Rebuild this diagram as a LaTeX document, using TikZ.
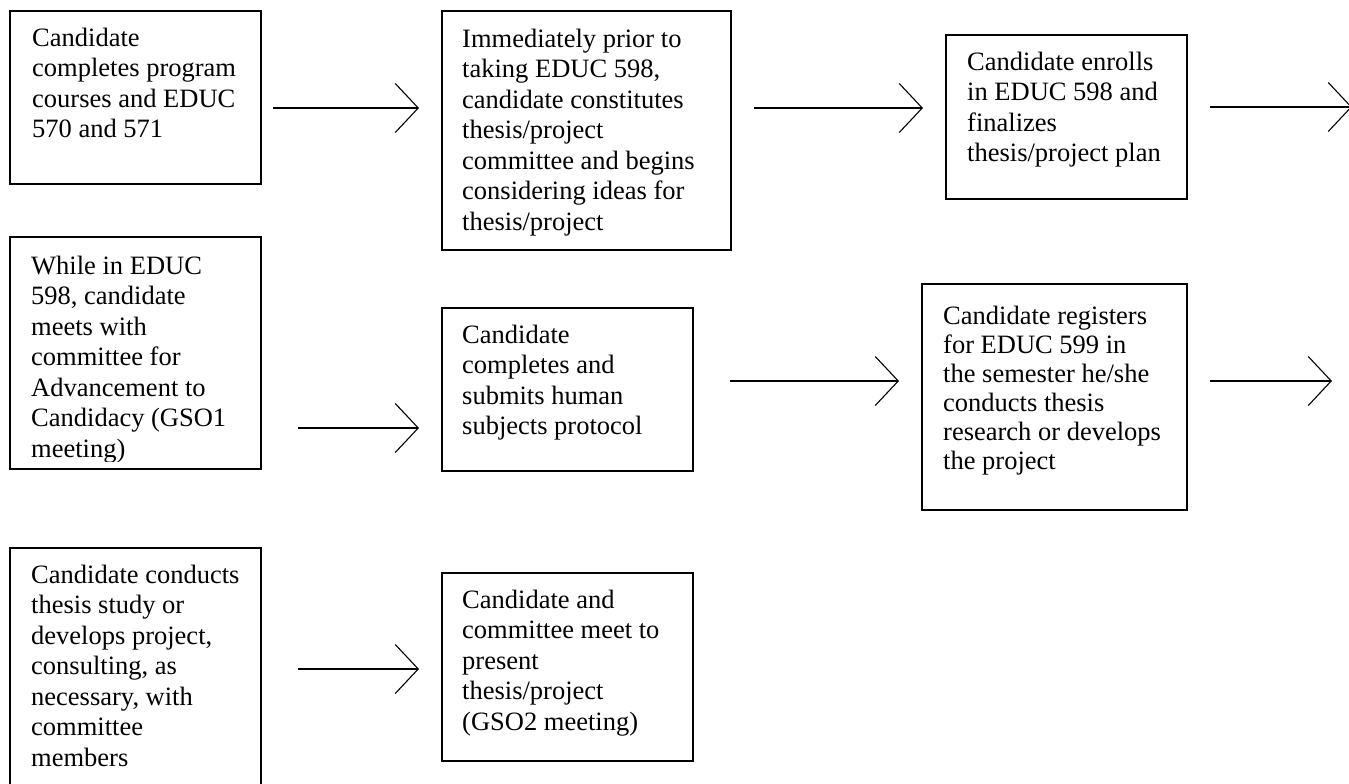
\documentclass[tikz,border=0pt]{standalone}
\usepackage{fontspec}
\setmainfont{Liberation Serif}
\usetikzlibrary{arrows.meta}
\begin{document}
\begin{tikzpicture}[x=1pt,y=-1pt,
  box/.style={draw, line width=1.1pt, inner sep=0pt, outer sep=0pt, anchor=north west},
  txt/.style={anchor=base west, align=left, inner sep=0pt, font=\fontsize{26.5}{30.5}\selectfont},
  arr/.style={line width=1.1pt, -{Straight Barb[length=23pt,width=49pt,line width=1.1pt]}}]
\useasboundingbox (0,0) rectangle (1349,784);
% boxes
\node[box, minimum width=251pt, minimum height=173pt] (A1) at (10,11) {};
\node[box, minimum width=289pt, minimum height=239pt] (A2) at (442,11) {};
\node[box, minimum width=241pt, minimum height=164pt] (A3) at (946,35) {};
\node[box, minimum width=251pt, minimum height=232pt] (B1) at (10,237) {};
\node[box, minimum width=251pt, minimum height=163pt] (B2) at (442,308) {};
\node[box, minimum width=265pt, minimum height=226pt] (B3) at (922,284) {};
\node[box, minimum width=251pt, minimum height=260pt] (C1) at (10,548) {};
\node[box, minimum width=251pt, minimum height=188pt] (C2) at (442,573) {};
% texts (anchored at the baseline of their last line)
\node[txt] (A1t) at (32,137.5) {Candidate\\completes program\\courses and EDUC\\570 and 571};
\node[txt] (A2t) at (462,230) {Immediately prior to\\taking EDUC 598,\\candidate constitutes\\thesis/project\\committee and begins\\considering ideas for\\thesis/project};
\node[txt] (A3t) at (967,161.5) {Candidate enrolls\\in EDUC 598 and\\finalizes\\thesis/project plan};
\begin{scope}
\clip (10,237) rectangle (261,461);
\node[txt] (B1t) at (31,457) {While in EDUC\\598, candidate\\meets with\\committee for\\Advancement to\\Candidacy (GSO1\\meeting)};
\end{scope}
\node[txt] (B2t) at (462,434.5) {Candidate\\completes and\\submits human\\subjects protocol};
\node[txt, font=\fontsize{26.5}{28.9}\selectfont] (B3t) at (943,469) {Candidate registers\\for EDUC 599 in\\the semester he/she\\conducts thesis\\research or develops\\the project};
\node[txt] (C1t) at (31,766) {Candidate conducts\\thesis study or\\develops project,\\consulting, as\\necessary, with\\committee\\members};
\node[txt] (C2t) at (462,730) {Candidate and\\committee meet to\\present\\thesis/project\\(GSO2 meeting)};
% arrow end points
\coordinate (a1s) at (273,108);  \coordinate (a1e) at (419,108);
\coordinate (a2s) at (754,108);  \coordinate (a2e) at (923,108);
\coordinate (a3s) at (1210,107); \coordinate (a3e) at (1352,107);
\coordinate (b1s) at (298,428);  \coordinate (b1e) at (419,428);
\coordinate (b2s) at (730,381);  \coordinate (b2e) at (899,381);
\coordinate (b3s) at (1210,381); \coordinate (b3e) at (1332,381);
\coordinate (c1s) at (298,669);  \coordinate (c1e) at (419,669);
\draw[arr] (a1s) -- (a1e);
\draw[arr] (a2s) -- (a2e);
\draw[arr] (a3s) -- (a3e);
\draw[arr] (b1s) -- (b1e);
\draw[arr] (b2s) -- (b2e);
\draw[arr] (b3s) -- (b3e);
\draw[arr] (c1s) -- (c1e);
\end{tikzpicture}
\end{document}
